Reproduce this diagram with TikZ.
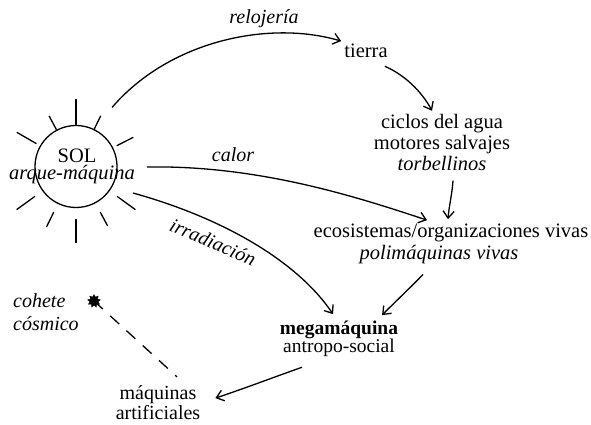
\documentclass[tikz,border=0pt]{standalone}
\usepackage{fontspec}
\setmainfont{Liberation Serif}
\usetikzlibrary{arrows.meta,calc,shapes.geometric}
\begin{document}
\begin{tikzpicture}[x=1pt,y=-1pt,
  txt/.style={font=\fontsize{20.5}{21}\selectfont, inner sep=3pt, align=center},
  lbl/.style={font=\fontsize{20}{21}\selectfont\itshape, inner sep=0pt},
  conn/.style={line width=1.3pt, -{Straight Barb[length=7pt,width=11pt,line width=1.3pt]}},
  ray/.style={line width=1.3pt, line cap=round}]
\useasboundingbox (0,0) rectangle (591,425);
% sun
\node[circle, draw, line width=1.3pt, minimum size=82pt, inner sep=0pt] (sol) at (76,166.5) {};
\node[txt, font=\fontsize{20.5}{17}\selectfont] (soltxt) at (72,166.8) {\hspace*{10pt}SOL\\\textit{arque-máquina}};
\foreach \a/\i/\o in {27/46/64, 64/42/56, 90/42/67, 118/42/57, 150/46/68, 216/51/73, 244/51/67, 270/53/76, 298/52/67, 324/51/73}
  \draw[ray] ($(sol.center)+({\i*cos(\a)},{-\i*sin(\a)})$) -- ($(sol.center)+({\o*cos(\a)},{-\o*sin(\a)})$);
% text nodes
\node[txt] (tierra) at (366,51.2) {tierra};
\node[txt] (ciclos) at (442,142.2) {ciclos del agua\\motores salvajes\\\textit{torbellinos}};
\node[txt, font=\fontsize{20.5}{22}\selectfont] (ecos) at (451,244.3) {ecosistemas/organizaciones vivas\\\textit{polimáquinas vivas}\hspace*{24pt}};
\node[txt, font=\fontsize{19.5}{18}\selectfont] (mega) at (339,339.2) {\textbf{megamáquina}\\antropo-social};
\node[txt, font=\fontsize{20}{20}\selectfont] (maq) at (158,403.1) {máquinas\\artificiales};
\node[txt, font=\fontsize{20}{23}\selectfont\itshape, align=left, anchor=west] (cohete) at (10,312.6) {cohete\\cósmico};
\node[star, star points=9, star point ratio=1.6, fill, draw, minimum size=13pt, inner sep=0pt] (star) at (94,301) {};
% labels
\node[lbl] (relo) at (264,18.3) {relojería};
\node[lbl] (calor) at (233,155) {calor};
\node[lbl, rotate=-23] (irr) at (213,242) {irradiación};
% connectors
\draw[conn] ($(sol.center)+(36,-59)$) .. controls (170,40) and (270,20) .. (tierra.north west);
\draw[conn] ($(tierra.south east)+(-6,5)$) .. controls (405,75) and (422,92) .. ($(ciclos.north)+(-10,0)$);
\draw[conn] ($(ciclos.south)+(11,7)$) .. controls (452,195) and (449,206) .. ($(ecos.north)+(-3,-2)$);
\draw[conn] ($(sol.center)+(71,0.5)$) .. controls (260,165) and (360,198) .. ($(ecos.north)+(-24,-1)$);
\draw[conn] ($(sol.center)+(57,26.5)$) .. controls (230,220) and (300,265) .. ($(mega.north)+(-6,-4)$);
\draw[conn] ($(ecos.south)+(-28,7)$) .. controls (410,288) and (395,302) .. ($(mega.north)+(43,-3)$);
\draw[conn] ($(mega.south)+(-37,7)$) .. controls (280,375) and (240,390) .. ($(maq.east)+(12,-5)$);
\draw[line width=1.3pt, dash pattern=on 12pt off 10pt] (star.center) -- ($(maq.north)+(19,-6)$);
\end{tikzpicture}
\end{document}
